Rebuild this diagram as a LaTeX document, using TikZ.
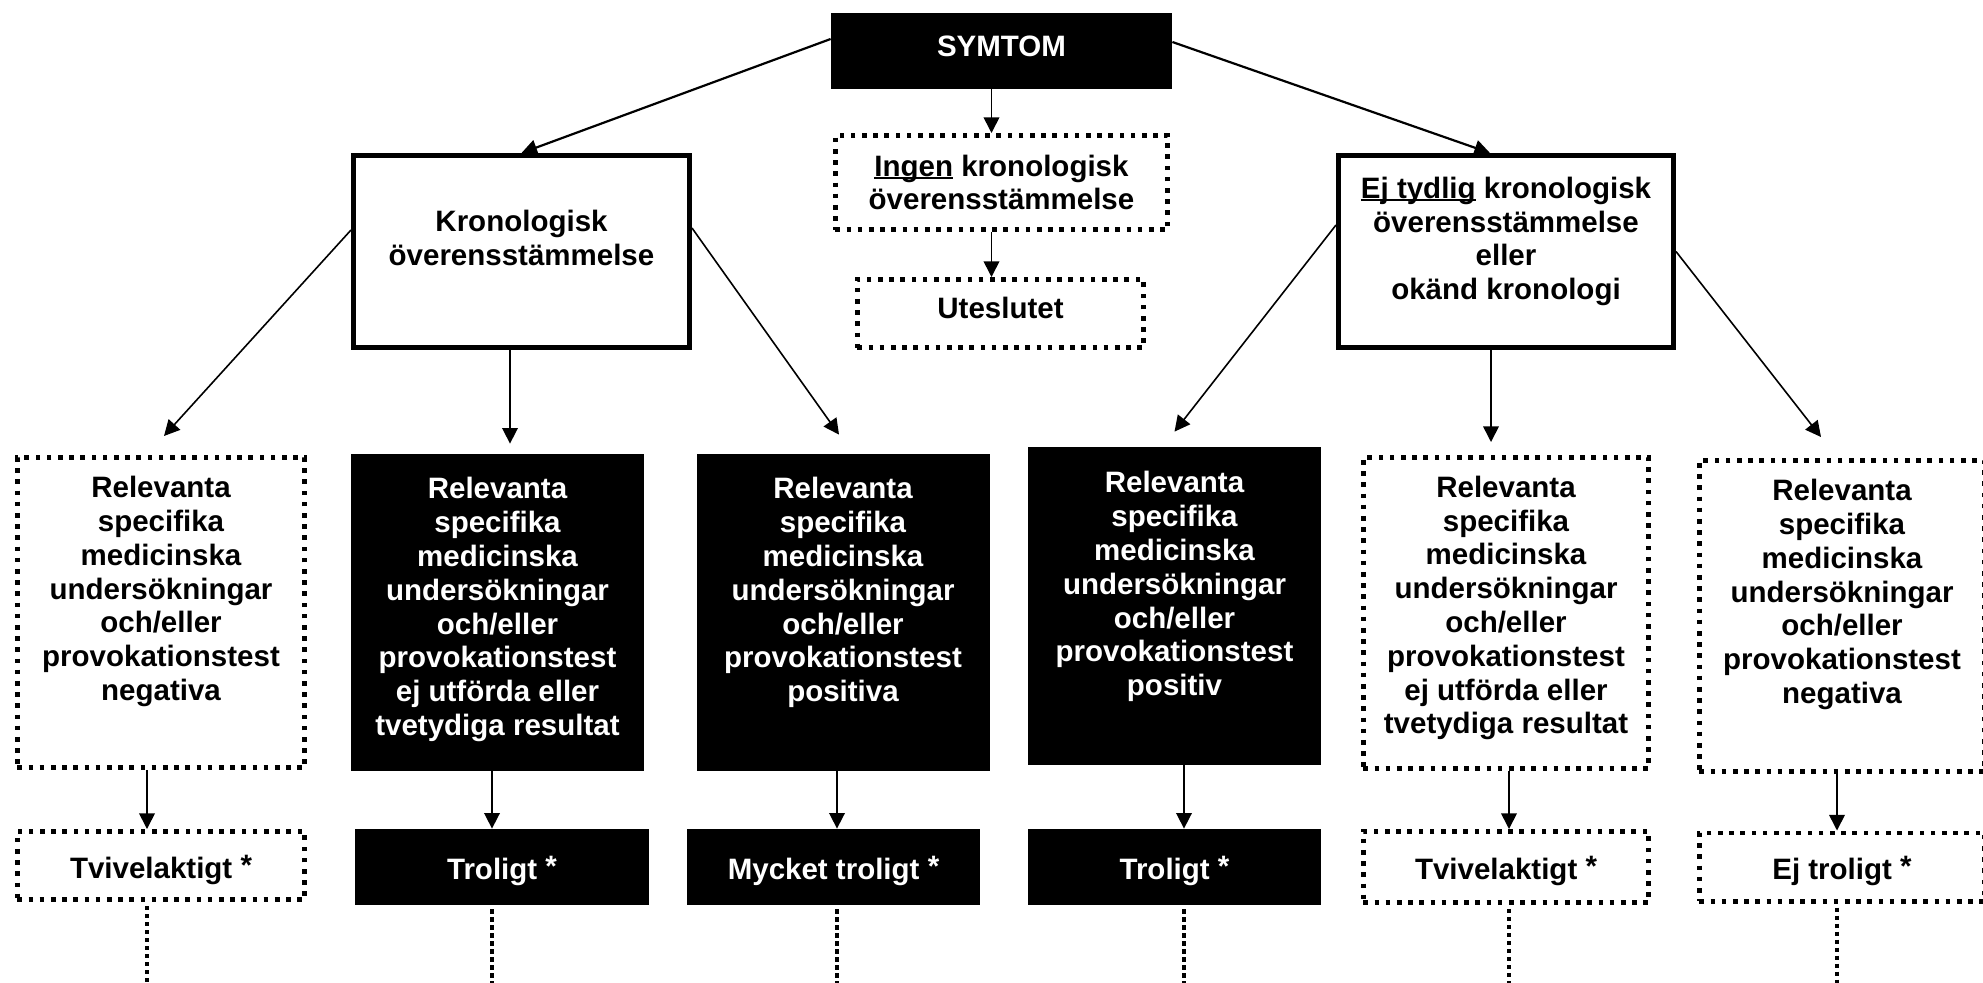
\documentclass[tikz,border=0pt]{standalone}
\usepackage{fontspec}
\setmainfont{Liberation Sans}
\usetikzlibrary{arrows.meta, positioning}

% underline that runs along the baseline
\newcommand{\undl}[1]{\setbox0=\hbox{#1}\rlap{\rule[-1.6pt]{\wd0}{1.4pt}}\box0\relax}

\begin{document}
\begin{tikzpicture}[
    x=0.5pt, y=-0.5pt,
    every node/.style={font=\fontsize{14.75pt}{16.9pt}\selectfont\bfseries},
    darkbox/.style={fill=black, text=white, inner sep=0pt},
    framebox/.style={draw, line width=2.5pt, inner sep=0pt},
    dotbox/.style={draw, line width=2.3pt, dash pattern=on 2.3pt off 3.3pt, inner sep=0pt},
    txt/.style={align=center, inner sep=0pt},
    toptxt/.style={text height=11pt, text depth=5.6pt},
    gradetxt/.style={text height=15.5pt, text depth=3pt},
    edge/.style={-{Triangle[length=7.8pt, width=7.8pt]}, line width=0.8pt},
    trail/.style={line width=1.6pt, dash pattern=on 2.1pt off 1.9pt, shorten <=2pt}
]
    \useasboundingbox (0,0) rectangle (1983,982);

    % top row
    \node[darkbox, toptxt, minimum width=170.5pt, minimum height=38pt] (sym) at (1001.5,51) {SYMTOM};
    \node[dotbox, txt, minimum width=166.2pt, minimum height=47.2pt] (ingen) at (1001.5,182.5)
        {\undl{Ingen} kronologisk\\överensstämmelse};
    \node[dotbox, toptxt, minimum width=143.2pt, minimum height=34.2pt] (utes) at (1000.5,313.5) {Uteslutet};
    \node[framebox, minimum width=168pt, minimum height=96pt] (kron) at (521.5,251.5) {};
    \node[txt, below=28.5pt of kron.north] (kront) {Kronologisk\\överensstämmelse};
    \node[framebox, minimum width=167.5pt, minimum height=96pt] (ejtyd) at (1506,251.5) {};
    \node[txt, below=11.75pt of ejtyd.north] (ejtydt)
        {\undl{Ej tydlig} kronologisk\\överensstämmelse\\eller\\okänd kronologi};

    % investigations
    \node[dotbox, minimum width=143.7pt, minimum height=155.2pt] (r1) at (161,612.5) {};
    \node[txt, below=10.5pt of r1.north] (r1t)
        {Relevanta\\specifika\\medicinska\\undersökningar\\och/eller\\provokationstest\\negativa};
    \node[darkbox, minimum width=146.5pt, minimum height=158.5pt] (r2) at (497.5,612.5) {};
    \node[txt, text=white, below=11.75pt of r2.north] (r2t)
        {Relevanta\\specifika\\medicinska\\undersökningar\\och/eller\\provokationstest\\ej utförda eller\\tvetydiga resultat};
    \node[darkbox, minimum width=146.5pt, minimum height=158.5pt] (r3) at (843,612.5) {};
    \node[txt, text=white, below=11.75pt of r3.north] (r3t)
        {Relevanta\\specifika\\medicinska\\undersökningar\\och/eller\\provokationstest\\positiva};
    \node[darkbox, minimum width=146.5pt, minimum height=159pt] (r4) at (1174.5,606) {};
    \node[txt, text=white, below=12.25pt of r4.north] (r4t)
        {Relevanta\\specifika\\medicinska\\undersökningar\\och/eller\\provokationstest\\positiv};
    \node[dotbox, minimum width=142.7pt, minimum height=155.7pt] (r5) at (1506,613) {};
    \node[txt, below=10.25pt of r5.north] (r5t)
        {Relevanta\\specifika\\medicinska\\undersökningar\\och/eller\\provokationstest\\ej utförda eller\\tvetydiga resultat};
    \node[dotbox, minimum width=142.7pt, minimum height=155.7pt] (r6) at (1842,616) {};
    \node[txt, below=10.5pt of r6.north] (r6t)
        {Relevanta\\specifika\\medicinska\\undersökningar\\och/eller\\provokationstest\\negativa};

    % grades
    \node[dotbox, gradetxt, minimum width=143.7pt, minimum height=34.2pt] (g1) at (161,865.5) {Tvivelaktigt \raisebox{1.5pt}{*}};
    \node[darkbox, gradetxt, minimum width=147pt, minimum height=38pt] (g2) at (502,867) {Troligt \raisebox{1.5pt}{*}};
    \node[darkbox, gradetxt, minimum width=146.5pt, minimum height=38pt] (g3) at (833.5,867) {Mycket troligt \raisebox{1.5pt}{*}};
    \node[darkbox, gradetxt, minimum width=146.5pt, minimum height=38pt] (g4) at (1174.5,867) {Troligt \raisebox{1.5pt}{*}};
    \node[dotbox, gradetxt, minimum width=142.7pt, minimum height=35.7pt] (g5) at (1506,867) {Tvivelaktigt \raisebox{1.5pt}{*}};
    \node[dotbox, gradetxt, minimum width=142.7pt, minimum height=34.2pt] (g6) at (1842,867) {Ej troligt \raisebox{1.5pt}{*}};

    \coordinate (end1) at (147,990);
    \coordinate (end2) at (492,990);
    \coordinate (end3) at (837,990);
    \coordinate (end4) at (1184,990);
    \coordinate (end5) at (1509,990);
    \coordinate (end6) at (1837,990);

    % arrows
    \draw[edge, line width=1.1pt] ([yshift=6pt]sym.west) -- (kron.north);
    \draw[edge, line width=1.1pt] ([yshift=4.5pt]sym.east) -- ([xshift=-8pt]ejtyd.north);
    \draw[edge] ([xshift=-5pt]sym.south) -- ([xshift=-5pt]ingen.north);
    \draw[edge] ([xshift=-5pt]ingen.south) -- ([xshift=-4.5pt]utes.north);

    \draw[edge] ([yshift=10.75pt]kron.west) -- ([xshift=1.5pt, yshift=9.5pt]r1.north);
    \draw[edge] ([xshift=-5.75pt]kron.south) -- ([xshift=6.25pt, yshift=5pt]r2.north);
    \draw[edge] ([yshift=11.75pt]kron.east) -- ([xshift=-2pt, yshift=9.5pt]r3.north);
    \draw[edge] ([yshift=13.25pt]ejtyd.west) -- ([yshift=7.5pt]r4.north);
    \draw[edge] ([xshift=-7.5pt]ejtyd.south) -- ([xshift=-7.5pt, yshift=6.5pt]r5.north);
    \draw[edge] (ejtyd.east) -- ([xshift=-10.5pt, yshift=10.5pt]r6.north);

    \draw[edge] (r1.south -| end1) -- (g1.north -| end1);
    \draw[edge] (r2.south -| end2) -- (g2.north -| end2);
    \draw[edge] (r3.south -| end3) -- (g3.north -| end3);
    \draw[edge] (r4.south -| end4) -- (g4.north -| end4);
    \draw[edge] (r5.south -| end5) -- (g5.north -| end5);
    \draw[edge] (r6.south -| end6) -- (g6.north -| end6);

    \draw[trail] (g1.south -| end1) -- (end1);
    \draw[trail] (g2.south -| end2) -- (end2);
    \draw[trail] (g3.south -| end3) -- (end3);
    \draw[trail] (g4.south -| end4) -- (end4);
    \draw[trail] (g5.south -| end5) -- (end5);
    \draw[trail] (g6.south -| end6) -- (end6);
\end{tikzpicture}
\end{document}
